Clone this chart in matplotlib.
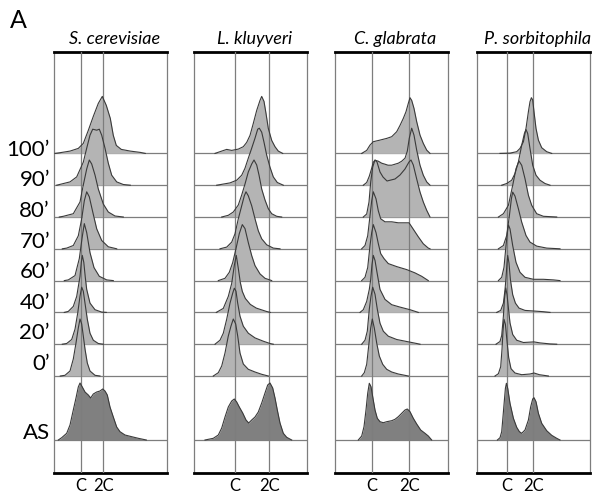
import numpy as np
import matplotlib.pyplot as plt

plt.rcParams['font.family'] = ['Lato', 'DejaVu Sans']

species = ['S. cerevisiae', 'L. kluyveri', 'C. glabrata', 'P. sorbitophila']
rows = ['AS', '0’', '20’', '40’', '60’', '70’', '80’', '90’', '100’']
# DNA content channel of the C and 2C peaks in each panel
c_1n = [26.4, 40.7, 36.7, 30.0]
c_2n = [49.0, 75.0, 74.3, 56.7]

# histograms: (channel, counts), rows in the order of `rows`
scer = [
    [(4, 0), (7.4, 2.3), (12.4, 6.7), (15.7, 15), (19, 30), (21.7, 42), (24, 53), (25.7, 57), (28, 53), (30.7, 48),
     (34, 45), (36.4, 42), (39, 46), (42.4, 48), (45.7, 49), (48.4, 51), (50.7, 49), (53, 45), (55.7, 33), (59, 23),
     (62.4, 13), (65.7, 8.3), (70.7, 5), (77.4, 3.3), (84, 1.7), (92, 0)],
    [(6, 0), (10.7, 0.7), (15.7, 5), (19, 17), (21.7, 33), (24, 48), (25.7, 57), (27.4, 52), (29, 40), (30.7, 27),
     (33, 13), (35.7, 5), (40.7, 0.7), (45.7, 0)],
    [(8, 0), (12.4, 0.7), (17.4, 4.7), (20.7, 15), (23.4, 31), (25.7, 48), (27.4, 57), (29, 53), (30.7, 41), (33, 25),
     (35.7, 11), (39, 4), (44, 0.7), (49, 0)],
    [(10, 0), (14, 1), (19, 6), (22.4, 16), (25.7, 36), (27, 50), (28, 57), (29.5, 50), (31, 35), (32.4, 23),
     (35.7, 9.3), (40.7, 2.7), (47.4, 0.3), (52, 0)],
    [(10, 0), (14, 0.7), (20.7, 5), (25, 22), (27.7, 42), (30, 57), (32.4, 48), (35.7, 28), (39.7, 13), (45, 4.3),
     (52.4, 0.7), (59, 0)],
    [(8, 0), (12.4, 0.7), (19, 3.3), (24, 13), (27.4, 30), (30, 48), (32.4, 57), (35, 52), (38.4, 37), (42.4, 20),
     (47.4, 8.3), (54, 2), (62.4, 0)],
    [(5, 0), (9, 0.7), (19, 3.3), (25.7, 15), (29, 32), (32.4, 48), (35, 57), (37.4, 53), (40.7, 42), (44, 28),
     (49, 13), (54, 5), (60.7, 1), (69, 0)],
    [(2.4, 0), (15.7, 3.3), (22.4, 8.3), (29, 23), (32.4, 37), (35.7, 50), (38.4, 56), (42.4, 55), (45, 56),
     (47.4, 50), (50.7, 37), (54, 22), (57.4, 10), (62.4, 3.3), (69, 0.7), (76, 0)],
    [(0.7, 0), (5.7, 0.7), (15.7, 2.3), (24, 5), (29, 10), (34, 23), (39, 37), (44, 50), (48, 57), (52, 48), (56, 35),
     (59, 18), (62, 8), (67, 4), (76, 2.3), (86, 1), (91, 0)],
]

lkluy = [
    [(10.7, 0), (19, 1.7), (24, 5), (27.4, 12), (30.7, 23), (34, 33), (37.4, 39), (40, 41), (42.4, 38), (45, 33),
     (48.4, 27), (51.7, 20), (54.4, 17), (57.4, 20), (60.7, 23), (64, 28), (67.4, 37), (70.7, 47), (73.4, 55),
     (75.7, 57), (78.4, 52), (80.7, 42), (83, 30), (85.7, 17), (89, 6.7), (92.4, 2.7), (97.4, 0)],
    [(19, 0), (24, 3.3), (27.4, 10), (30.7, 23), (34, 40), (36.7, 50), (39, 57), (41.4, 52), (43.4, 40), (45.7, 23),
     (49, 12), (54, 6.7), (60.7, 4), (67.4, 1.7), (74, 0)],
    [(20.7, 0), (25.7, 4), (29, 11), (32.4, 25), (35.7, 41), (38.4, 51), (40, 56), (41.7, 53), (43.4, 41), (45.7, 28),
     (49, 18), (54, 11), (60.7, 6.3), (69, 3), (75.7, 0.7), (79, 0)],
    [(22, 0), (29, 4), (34, 16), (37.4, 29), (40, 47), (42, 57), (44, 44), (46, 30), (48, 21), (51, 14), (56, 8),
     (62, 4.3), (72, 1), (76, 0)],
    [(24, 0), (30.7, 2.3), (35, 8.3), (38.4, 18), (41.7, 32), (45, 47), (48, 56), (50.7, 52), (54, 38), (57.4, 25),
     (60.7, 15), (65.7, 6.7), (70.7, 2.3), (77.4, 0)],
    [(25.7, 0), (32.4, 1.7), (37.4, 6.7), (40.7, 15), (44, 30), (47.4, 43), (50, 53), (51.7, 57), (54, 53),
     (57.4, 43), (60.7, 30), (64, 18), (67.4, 10), (72.4, 4), (79, 0.7), (85.7, 0)],
    [(27.4, 0), (34, 1.7), (39, 5), (44, 12), (47.4, 22), (50.7, 33), (54, 45), (57.4, 53), (59.7, 57), (62.4, 52),
     (64.7, 42), (67.4, 28), (70.7, 17), (74, 8.3), (77.4, 3.3), (82.4, 0.7), (87.4, 0)],
    [(22.4, 0), (35.7, 2.3), (42.4, 5), (47.4, 10), (50.7, 17), (54, 27), (57.4, 37), (60.7, 47), (63.4, 56),
     (65, 57), (67.4, 53), (69.7, 43), (72.4, 30), (75.7, 18), (79, 8.3), (83, 2.7), (89, 0)],
    [(20.7, 0), (27.4, 2.3), (32.4, 4), (37.4, 3), (44, 4.3), (49, 6.7), (52.4, 11), (55.7, 18), (59, 30),
     (62.4, 43), (65.7, 53), (67.4, 57), (69.7, 52), (71.7, 40), (74, 25), (77.4, 13), (80.7, 6.7), (84, 2.3),
     (88.4, 0)],
]

cglab = [
    [(23.3, 0), (26.7, 4), (29, 13.3), (31, 30), (32.7, 46.7), (34.3, 56.7), (36, 53.3), (37.7, 43.3), (40, 30),
     (42.3, 21.7), (45, 18.3), (48.3, 17.3), (51.7, 18.3), (56.7, 19.3), (60, 20.7), (63.3, 23.3), (66.7, 26.7),
     (70, 30), (72.3, 31), (75, 28.3), (78.3, 21.7), (81.7, 16), (85.7, 10), (90, 6.7), (93.3, 4), (96.7, 0)],
    [(26.7, 0), (29.3, 3.3), (31.7, 11.7), (34, 33), (35.7, 48), (37.3, 57), (39.3, 48), (41.7, 33), (44.3, 20),
     (47.7, 11.7), (51.7, 6.7), (56.7, 4), (63.3, 2), (73.3, 0)],
    [(26.7, 0), (30, 4), (32.3, 13), (34.3, 35), (36, 48), (37.7, 57), (40, 50), (42.3, 35), (45, 21), (48.3, 13),
     (53.3, 8), (61.7, 4.7), (71.7, 2.7), (81.7, 0.7), (85, 0)],
    [(25, 0), (28.3, 2.7), (31.7, 11), (34.3, 23), (35.7, 33), (37, 48), (38.3, 57), (40, 52), (42, 40), (45, 23),
     (50, 13), (56.7, 7.7), (65, 5.3), (75, 2.7), (83.3, 0)],
    [(26.7, 0), (30, 3.3), (32.7, 13), (35, 35), (36.7, 48), (38.3, 56), (41, 48), (43.3, 37), (45.7, 27), (49, 22),
     (53.3, 17), (61.7, 14), (71.7, 11), (80, 7.7), (86.7, 4.3), (93.3, 0)],
    [(26.7, 0), (30, 3.3), (32.7, 13), (35, 33), (36.7, 48), (38.3, 57), (41, 50), (43.3, 38), (45.7, 30), (50, 27),
     (56.7, 27), (63.3, 26), (70, 26), (74, 26), (76.7, 22), (80, 17), (83.3, 12), (88.3, 5), (93.3, 0.7), (95, 0)],
    [(28.3, 0), (31.7, 3), (34, 15), (35.7, 35), (37.7, 50), (40, 57), (42, 55), (45, 45), (48, 40), (52, 36),
     (56, 37), (60, 38), (65, 42), (70, 48), (74, 55), (76, 57), (78.3, 52), (81.7, 38), (85, 25), (88.3, 15),
     (91.7, 6.7), (95, 0)],
    [(28.3, 0), (31.7, 2.7), (34.3, 9), (36.7, 17), (38.3, 23), (40, 25), (43.3, 24), (46.7, 22), (50, 21), (53, 20),
     (56.7, 20), (60, 21), (63.3, 22), (66.7, 24), (70, 27), (72.3, 34), (74.3, 47), (76.7, 57), (79, 50),
     (81.7, 35), (85, 20), (88.3, 10), (91.7, 3.3), (95, 0)],
    [(26.7, 0), (31.7, 3), (35, 8.3), (38.3, 11.7), (45, 13.3), (51.7, 15), (56.7, 16.7), (61.7, 21.7), (65, 28),
     (68.3, 35), (71, 41.7), (73.3, 50), (75, 55.7), (76.7, 53), (79, 45), (81.7, 31.7), (85, 18.3), (88.3, 10),
     (91.7, 3.3), (95, 0)],
]

psorb = [
    [(20.7, 0), (23.3, 2.3), (25, 8.3), (26.3, 23.3), (27.7, 40), (28.7, 51.7), (29.7, 56.7), (31, 51.7),
     (33.3, 36.7), (36.7, 21.7), (40, 12.7), (42.7, 8.3), (45, 6.7), (48.3, 10), (51.7, 20), (54, 33.3), (56, 41),
     (57.3, 42.3), (59.3, 38.3), (61.7, 26.7), (65, 16.7), (70, 9.3), (75, 4.7), (80, 1.7), (83.3, 0)],
    [(18.3, 0), (21.7, 2.3), (24, 9.3), (25.3, 26.7), (26.3, 45), (27.3, 56.7), (28.7, 51.7), (30.3, 35), (32, 18.3),
     (34.3, 7.3), (38.3, 3), (45, 1.3), (53.3, 2), (57.3, 3), (62.7, 1.3), (71.7, 0)],
    [(19.3, 0), (23.3, 2.7), (25, 8.7), (26.7, 28), (27.7, 44.7), (29, 56.3), (30.3, 49.7), (31.7, 36.3),
     (33.3, 21.3), (36, 9.7), (40, 4), (46.7, 1.7), (57.3, 2.3), (63.3, 1.3), (73.3, 0.3), (80, 0)],
    [(20, 0), (24, 2), (26.7, 9.3), (28.3, 22.7), (29.3, 34.3), (30.3, 49.3), (31, 57), (32.3, 49.3), (33.7, 32.7),
     (36, 17.7), (38.7, 9.3), (42.3, 4.3), (48.3, 2), (58.3, 1.3), (66.7, 0.7), (73.3, 0)],
    [(21.7, 0), (25, 3.3), (27.3, 13.3), (29.3, 35), (30.7, 48.3), (31.7, 55.7), (33.3, 51.7), (36, 35),
     (39.3, 18.3), (43.3, 8.3), (48.3, 3.3), (56.7, 1.3), (66.7, 1.3), (76.7, 0.7), (83.3, 0)],
    [(21.7, 0), (26.7, 3.3), (30, 13.3), (32.7, 33.3), (34.7, 50), (36, 56.7), (38.3, 52.7), (41.7, 40), (45, 26.7),
     (49.3, 13.3), (53.3, 6.7), (60, 2.7), (70, 0.7), (83.3, 0)],
    [(21.7, 0), (26.7, 3.3), (31.7, 11.7), (36, 31.7), (39.3, 48.3), (42.3, 56), (45, 51.7), (48.3, 38.3),
     (51.7, 21.7), (55, 11.7), (60, 3.3), (66.7, 0.7), (80, 0)],
    [(25, 0), (30, 1.7), (35, 5), (38.3, 11.7), (41.7, 23.3), (45, 40), (47.7, 51.7), (49.3, 55.7), (51, 51.7),
     (53.3, 36.7), (56, 20), (59.3, 10), (63.3, 5), (68.3, 1.7), (73.3, 0)],
    [(23.3, 0), (33.3, 0.3), (40, 1.7), (43.3, 5), (46.7, 11.7), (49.3, 25), (51.7, 41.7), (53.3, 51.7),
     (54.7, 55.7), (56, 53.3), (57.3, 41.7), (59.3, 25), (61.7, 13.3), (65, 5.7), (70, 1.7), (75, 0)],
]

panels = [scer, lkluy, cglab, psorb]

# layout (pixels)
W, H = 611, 494
lefts = [54.3, 194.3, 335, 476.7]
pw = 113
top, bot = 52, 473
ph = bot - top
base = [33] + [97 + 31.8 * i for i in range(8)]
grey = '#7d7d7d'

fig = plt.figure(figsize=(W / 100, H / 100), dpi=100)

for p, data in enumerate(panels):
    ax = fig.add_axes([lefts[p] / W, (H - bot) / H, pw / W, ph / H])
    ax.set_xlim(0, pw)
    ax.set_ylim(0, ph)
    ax.set_xticks([])
    ax.set_yticks([])
    for s in ['left', 'right']:
        ax.spines[s].set_color(grey)
        ax.spines[s].set_linewidth(0.9)
    for s in ['top', 'bottom']:
        ax.spines[s].set_color('black')
        ax.spines[s].set_linewidth(2)
    for i, (b, curve) in enumerate(zip(base, data)):
        x, h = np.array(curve).T
        ax.axhline(b, color=grey, lw=0.9, zorder=1)
        fc = '#808080' if i == 0 else '#b4b4b4'
        ax.fill_between(x, b, b + h, color=fc, lw=0, zorder=2)
        ax.plot(x, b + h, color='#3a3a3a', lw=0.8, zorder=4)
    ax.axvline(c_1n[p], color=grey, lw=0.9, zorder=3)
    ax.axvline(c_2n[p], color=grey, lw=0.9, zorder=3)
    ax.text(pw / 2 + 4, ph + 8, species[p], style='italic', ha='center', va='baseline',
            fontsize=13, clip_on=False)
    ax.text(c_1n[p], -18, 'C', ha='center', va='baseline', fontsize=12, clip_on=False)
    ax.text(c_2n[p], -18, '2C', ha='center', va='baseline', fontsize=12, clip_on=False)
    if p == 0:
        ylab = [bot - 439] + [bot - (370 - 30.6 * k) for k in range(8)]
        for lab, y in zip(rows, ylab):
            ax.text(-4.3, y, lab, ha='right', va='baseline', fontsize=16, clip_on=False)

fig.text(10 / W, 1 - 28 / H, 'A', fontsize=18, va='baseline')

fig.savefig('out.png', dpi=100)
